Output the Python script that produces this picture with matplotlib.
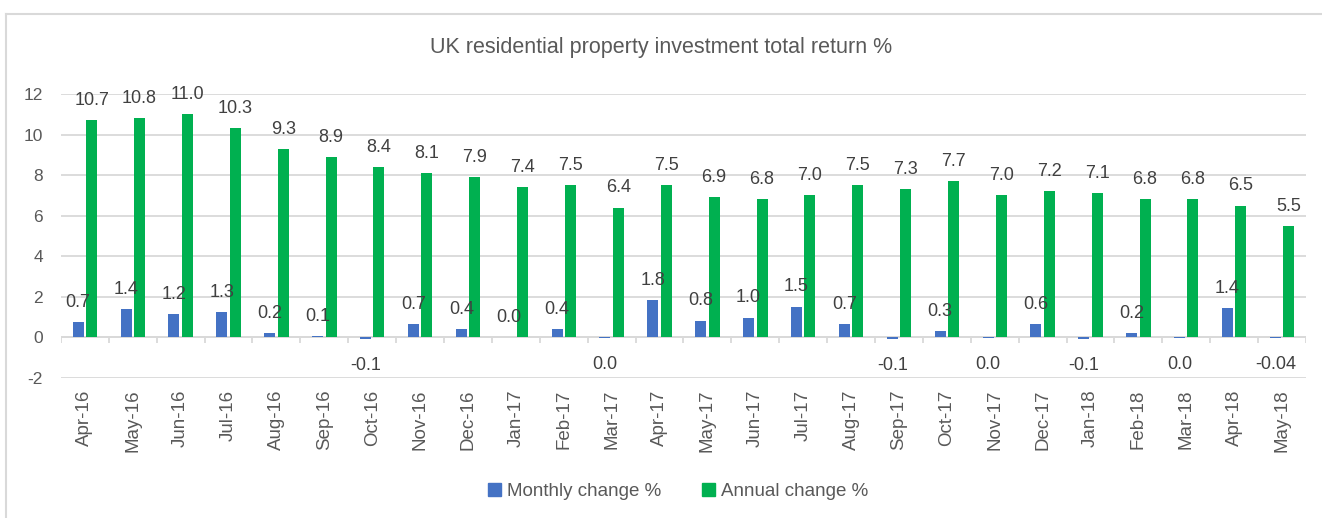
import matplotlib.pyplot as plt
import numpy as np
from matplotlib.lines import Line2D
from matplotlib.patches import Patch

plt.rcParams['font.family'] = ['Liberation Sans', 'DejaVu Sans']
plt.rcParams['axes.unicode_minus'] = False

months = ['Apr-16', 'May-16', 'Jun-16', 'Jul-16', 'Aug-16', 'Sep-16', 'Oct-16', 'Nov-16',
          'Dec-16', 'Jan-17', 'Feb-17', 'Mar-17', 'Apr-17', 'May-17', 'Jun-17', 'Jul-17',
          'Aug-17', 'Sep-17', 'Oct-17', 'Nov-17', 'Dec-17', 'Jan-18', 'Feb-18', 'Mar-18',
          'Apr-18', 'May-18']
monthly = [0.74, 1.38, 1.17, 1.27, 0.2, 0.05, -0.1, 0.66, 0.39, 0.0, 0.42, -0.02, 1.82,
           0.83, 0.98, 1.52, 0.64, -0.1, 0.3, -0.01, 0.64, -0.1, 0.23, -0.01, 1.43, -0.04]
monthly_labels = ['0.7', '1.4', '1.2', '1.3', '0.2', '0.1', '-0.1', '0.7', '0.4', '0.0',
                  '0.4', '0.0', '1.8', '0.8', '1.0', '1.5', '0.7', '-0.1', '0.3', '0.0',
                  '0.6', '-0.1', '0.2', '0.0', '1.4', '-0.04']
annual = [10.7, 10.8, 11.0, 10.3, 9.3, 8.9, 8.4, 8.1, 7.9, 7.4, 7.5, 6.4, 7.5, 6.9, 6.8,
          7.0, 7.5, 7.3, 7.7, 7.0, 7.2, 7.1, 6.8, 6.8, 6.5, 5.5]

BLUE = '#4472C4'
GREEN = '#00B050'
GRID = '#D9D9D9'
TEXT = '#595959'
LABEL = '#404040'

fig = plt.figure(figsize=(13.22, 5.18), dpi=100)
ax = fig.add_axes([0.0461, 0.2703, 0.9418, 0.5483])

x = np.arange(len(months))
w = 0.23
b1 = ax.bar(x - 0.14, monthly, w, color=BLUE, zorder=3)
b2 = ax.bar(x + 0.14, annual, w, color=GREEN, zorder=3)

ax.set_xlim(-0.5, len(months) - 0.5)
ax.set_ylim(-2, 12)
ax.set_yticks(range(-2, 13, 2))
ax.yaxis.grid(True, color=GRID, lw=1.3)
ax.set_axisbelow(True)
for s in ax.spines.values():
    s.set_visible(False)
ax.axhline(0, color=GRID, lw=1.3, zorder=2)
ax.vlines(np.arange(len(months) + 1) - 0.5, -0.3, 0, color=GRID, lw=1.3, zorder=2)

ax.set_xticks(x)
ax.set_xticklabels(months, rotation=90, fontsize=13.5, color=TEXT)
ax.tick_params(axis='x', length=0, pad=8.5)
ax.tick_params(axis='y', length=0, pad=13, labelsize=12.5, labelcolor=TEXT)

# data labels
for rect, val, lab in zip(b1, monthly, monthly_labels):
    cx = rect.get_x() + rect.get_width() / 2
    if val >= 0:
        ax.annotate(lab, (cx, val), xytext=(0, 8), textcoords='offset points',
                    ha='center', va='bottom', fontsize=13, color=LABEL)
    else:
        ax.annotate(lab, (cx, val), xytext=(0, -13), textcoords='offset points',
                    ha='center', va='top', fontsize=13, color=LABEL)
for rect, val in zip(b2, annual):
    cx = rect.get_x() + rect.get_width() / 2
    ax.annotate(f'{val:.1f}', (cx, val), xytext=(0, 8), textcoords='offset points',
                ha='center', va='bottom', fontsize=13, color=LABEL)

fig.text(0.5, 1 - 48 / 518, 'UK residential property investment total return %',
         ha='center', va='center', fontsize=15.5, color=TEXT)

handles = [Patch(color=BLUE, label='Monthly change %'),
           Patch(color=GREEN, label='Annual change %')]
fig.legend(handles=handles, loc='center', bbox_to_anchor=(0.513, 0.052), ncol=2,
           frameon=False, fontsize=13.5, labelcolor=TEXT, handlelength=0.7,
           handleheight=0.7, handletextpad=0.3, columnspacing=2.2)

# chart border (left and top edges visible)
fig.add_artist(Line2D([6 / 1322, 6 / 1322], [0, 1 - 14 / 518], color=GRID, lw=1.5,
                      transform=fig.transFigure))
fig.add_artist(Line2D([6 / 1322, 1], [1 - 14 / 518, 1 - 14 / 518], color=GRID, lw=1.5,
                      transform=fig.transFigure))

fig.savefig('out.png', dpi=100)
